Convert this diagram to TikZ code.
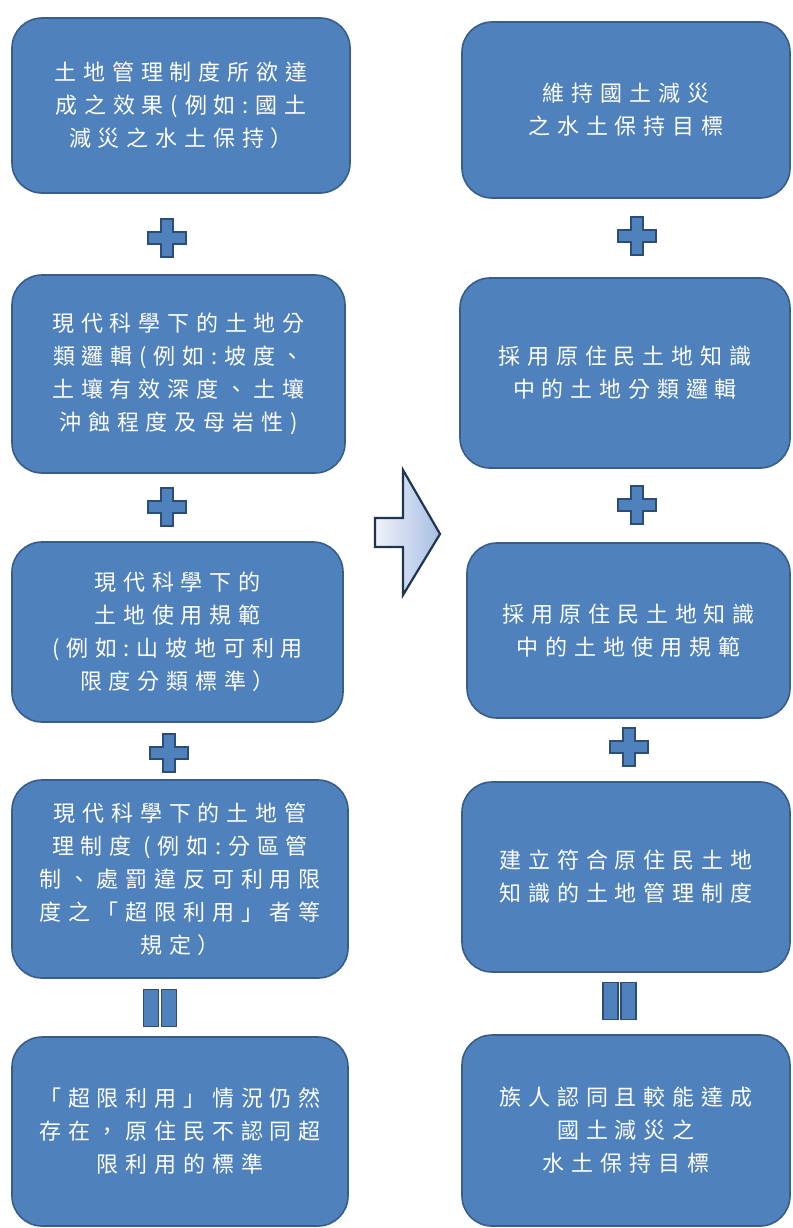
\documentclass[tikz,border=0pt]{standalone}
\usepackage{fontspec}
\newfontfamily\cjk[LetterSpace=31]{Noto Sans CJK TC}
\definecolor{boxblue}{HTML}{4F81BD}
\definecolor{boxedge}{HTML}{385D8A}
\definecolor{symedge}{HTML}{2C4D75}
\definecolor{arrowedge}{HTML}{1F3550}
\definecolor{arrowlight}{HTML}{EEF2FA}
\definecolor{arrowdark}{HTML}{A9BEE4}
\tikzset{
  stepbox/.style={draw=boxedge, fill=boxblue, line width=1.6pt, rounded corners=30pt,
    text=white, align=center, inner sep=0pt,
    font={\cjk\fontsize{22}{33}\selectfont}},
  symbol/.style={draw=symedge, fill=boxblue, line width=1.4pt},
  plussign/.pic={\path[symbol] (-19,-6) -- (-6,-6) -- (-6,-19) -- (6,-19) -- (6,-6) -- (19,-6)
      -- (19,6) -- (6,6) -- (6,19) -- (-6,19) -- (-6,6) -- (-19,6) -- cycle;},
  equalsign/.pic={\path[symbol] (-16.5,-18.5) rectangle (-1.5,18.5);
      \path[symbol] (1.5,-18.5) rectangle (16.5,18.5);}
}
\begin{document}
\begin{tikzpicture}[x=1pt,y=-1pt]
\useasboundingbox (0,0) rectangle (792,1228);
\fill[white] (0,0) rectangle (792,1228);

% left column
\node[stepbox, minimum width=338pt, minimum height=175pt] (L1) at (181,105.5)
  {土地管理制度所欲達\\成之效果(例如:國土\\減災之水土保持）};
\node[stepbox, minimum width=333pt, minimum height=198pt] (L2) at (178.5,374)
  {現代科學下的土地分\\類邏輯(例如:坡度、\\土壤有效深度、土壤\\沖蝕程度及母岩性)};
\node[stepbox, minimum width=331pt, minimum height=180pt] (L3) at (177.5,632)
  {現代科學下的\\土地使用規範\\(例如:山坡地可利用\\限度分類標準）};
\node[stepbox, minimum width=336pt, minimum height=198pt] (L4) at (180,879)
  {現代科學下的土地管\\理制度 (例如:分區管\\制、處罰違反可利用限\\度之「超限利用」者等\\規定）};
\node[stepbox, minimum width=336pt, minimum height=189pt] (L5) at (180,1131.5)
  {「超限利用」情況仍然\\存在，原住民不認同超\\限利用的標準};

% right column
\node[stepbox, minimum width=328pt, minimum height=176pt] (R1) at (626,110)
  {維持國土減災\\之水土保持目標};
\node[stepbox, minimum width=330pt, minimum height=190pt] (R2) at (625,373)
  {採用原住民土地知識\\中的土地分類邏輯};
\node[stepbox, minimum width=323pt, minimum height=175pt] (R3) at (628.5,630.5)
  {採用原住民土地知識\\中的土地使用規範};
\node[stepbox, minimum width=328pt, minimum height=190pt] (R4) at (626,877)
  {建立符合原住民土地\\知識的土地管理制度};
\node[stepbox, minimum width=328pt, minimum height=191pt] (R5) at (626,1130.5)
  {族人認同且較能達成\\國土減災之\\水土保持目標};

% operators
\pic at (167,238) {plussign};
\pic at (167,507) {plussign};
\pic at (169,753) {plussign};
\pic at (160,1008) {equalsign};
\pic at (637,236) {plussign};
\pic at (637,505) {plussign};
\pic at (629,747) {plussign};
\pic at (619.5,1001) {equalsign};

% big arrow
\shadedraw[left color=arrowlight, right color=arrowdark, draw=arrowedge, line width=2.2pt, line join=miter]
  (375,518) -- (403,518) -- (403,470) -- (440,534) -- (403,595) -- (403,547) -- (375,547) -- cycle;
\end{tikzpicture}
\end{document}
